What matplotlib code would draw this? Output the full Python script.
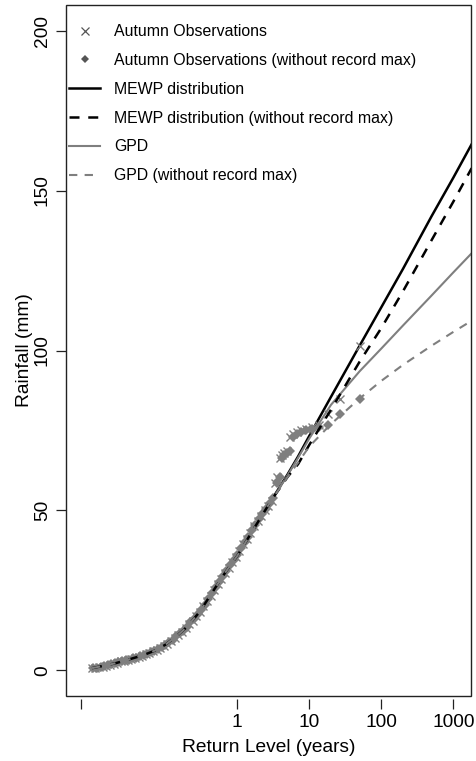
import matplotlib
matplotlib.use("Agg")
import matplotlib.pyplot as plt
from matplotlib.lines import Line2D
from matplotlib.patches import Rectangle

plt.rcParams['font.family'] = ['Liberation Sans', 'DejaVu Sans']

# return periods (years) at which the fitted curves are evaluated
curve_T = [0.0096, 0.015, 0.02, 0.03, 0.05, 0.07, 0.1, 0.15, 0.2, 0.3, 0.5, 0.7,
           1, 1.5, 2, 3, 5, 7, 10, 20, 50, 100, 200, 500, 1000, 1800]

# fitted return levels (mm)
mewp = [0.7, 1.6, 2.2, 3.3, 4.8, 6.1, 8.0, 11.1, 13.6, 18.3, 26.0, 31.0,
        35.8, 42.3, 46.9, 53.3, 61.3, 66.9, 73.3, 85.5, 101.5, 113.5, 125.5, 142.0, 154.0, 164.5]
mewp_nomax = [0.7, 1.6, 2.2, 3.3, 4.8, 6.1, 8.0, 11.1, 13.6, 18.3, 26.0, 31.0,
              35.8, 42.3, 46.9, 53.3, 60.5, 64.5, 70.5, 81.5, 96.5, 107.0, 118.5, 134.5, 146.5, 157.0]
gpd = [0.7, 1.6, 2.2, 3.3, 4.8, 6.1, 8.0, 11.1, 13.6, 18.3, 26.0, 31.0,
       35.8, 42.3, 46.9, 53.3, 61.0, 66.5, 72.5, 83.0, 93.5, 100.6, 107.8, 117.2, 124.4, 130.4]
gpd_nomax = [0.7, 1.6, 2.2, 3.3, 4.8, 6.1, 8.0, 11.1, 13.6, 18.3, 26.0, 31.0,
             35.8, 42.3, 46.9, 53.3, 60.5, 65.0, 70.0, 77.0, 85.0, 90.5, 95.5, 101.5, 105.8, 109.3]

# autumn observations: empirical return period (years) and rainfall (mm)
obs_T = [0.0095, 0.0107, 0.0120, 0.0135, 0.0151, 0.0170, 0.0191, 0.0214, 0.0240, 0.0269,
         0.0302, 0.0339, 0.0380, 0.0427, 0.0479, 0.0537, 0.0603, 0.0676, 0.0759, 0.0851,
         0.0955, 0.107, 0.120, 0.135, 0.151, 0.170, 0.191, 0.214, 0.240, 0.269,
         0.302, 0.339, 0.380, 0.427, 0.479, 0.537, 0.603, 0.676, 0.759, 0.851,
         0.955, 1.07, 1.20, 1.35, 1.51, 1.70, 1.91, 2.14, 2.40, 2.69,
         3.02, 3.39, 3.6, 3.86, 4.15, 4.5, 4.9, 5.4, 6.0, 6.75,
         7.7, 9.0, 10.8, 13.5, 18.0, 27.0, 50.0]
obs_mm = [0.6, 0.8, 1.0, 1.2, 1.4, 1.8, 2.0, 2.4, 2.8, 3.0,
          3.4, 3.6, 4.0, 4.2, 4.6, 5.0, 5.4, 6.0, 6.4, 7.0,
          7.6, 8.4, 9.2, 10.2, 11.2, 12.0, 13.2, 14.4, 15.6, 17.0,
          18.4, 20.0, 21.6, 23.4, 25.2, 27.0, 28.6, 30.4, 32.0, 33.8,
          35.4, 37.2, 39.4, 41.2, 43.0, 45.0, 46.6, 48.2, 50.0, 51.4,
          53.0, 58.5, 60.5, 66.5, 67.2, 68.0, 68.6, 73.0, 73.8, 74.4,
          75.0, 75.4, 76.0, 76.6, 80.2, 84.8, 101.5]

# observations with the record maximum removed
obs2_T = [0.0100, 0.0112, 0.0126, 0.0141, 0.0158, 0.0178, 0.0200, 0.0224, 0.0251, 0.0282,
          0.0316, 0.0355, 0.0398, 0.0447, 0.0501, 0.0562, 0.0631, 0.0708, 0.0794, 0.0891,
          0.100, 0.112, 0.126, 0.141, 0.158, 0.178, 0.200, 0.224, 0.251, 0.282,
          0.316, 0.355, 0.398, 0.447, 0.501, 0.562, 0.631, 0.708, 0.794, 0.891,
          1.00, 1.12, 1.26, 1.41, 1.58, 1.78, 2.00, 2.24, 2.51, 2.82,
          3.16, 3.6, 3.86, 4.15, 4.5, 4.9, 5.4, 6.0, 6.75, 7.7,
          9.0, 10.8, 13.5, 18.0, 27.0, 50.0]
obs2_mm = [0.7, 0.9, 1.1, 1.3, 1.6, 1.9, 2.2, 2.6, 2.8, 3.2,
           3.4, 3.8, 4.0, 4.4, 4.8, 5.2, 5.6, 6.2, 6.6, 7.2,
           8.0, 8.8, 9.6, 10.6, 11.6, 12.4, 13.6, 15.0, 16.2, 17.6,
           19.0, 20.6, 22.4, 24.2, 26.0, 27.6, 29.4, 31.0, 32.8, 34.4,
           36.2, 38.2, 40.2, 41.8, 44.0, 45.6, 47.4, 49.0, 50.6, 52.2,
           53.8, 58.5, 60.5, 66.5, 67.2, 68.0, 68.6, 73.0, 73.8, 74.4,
           75.0, 75.4, 76.0, 76.6, 80.2, 84.8]

x_ticks = [0.0067, 1, 10, 100, 1000]
x_tick_labels = ['', '1', '10', '100', '1000']
y_ticks = [0, 50, 100, 150, 200]

GREY = '#7f7f7f'
DASH = (4, 3.5)

fig = plt.figure(figsize=(4.77, 7.61), dpi=100)
ax = fig.add_axes([65.7 / 477, 1 - 696 / 761, (471 - 65.7) / 477, (696 - 5) / 761])

ax.plot(curve_T, mewp, color='black', lw=1.8, zorder=1)
ax.plot(curve_T, gpd, color=GREY, lw=1.5, zorder=1)
ax.plot(obs_T, obs_mm, ls='none', marker='x', ms=6.2, mew=1.0, color=GREY, zorder=2)
ax.plot(obs2_T, obs2_mm, ls='none', marker='D', ms=4.8, mew=0, color=GREY, zorder=2)
ax.plot(curve_T, mewp_nomax, color='black', lw=1.8, dashes=DASH, zorder=3)
ax.plot(curve_T, gpd_nomax, color=GREY, lw=1.5, dashes=DASH, zorder=3)

ax.set_xscale('log')
ax.set_xlim(10 ** -2.383, 10 ** 3.246)
ax.set_ylim(-8, 208)
ax.set_xticks(x_ticks)
ax.set_xticklabels(x_tick_labels)
ax.xaxis.set_minor_locator(matplotlib.ticker.NullLocator())
ax.set_yticks(y_ticks)
ax.set_yticklabels([str(v) for v in y_ticks], rotation=90, va='center')

for side in ['top', 'right', 'left', 'bottom']:
    ax.spines[side].set_visible(False)
ax.spines['bottom'].set_position(('outward', 2.2))
ax.add_patch(Rectangle((0, 0), 1, 1, transform=ax.transAxes, fill=False,
                       lw=1.0, edgecolor='#222222', clip_on=False, zorder=5))

ax.tick_params(axis='both', direction='out', length=7.2, width=0.9, color='#222222',
               labelsize=13.8, labelcolor='black')
ax.tick_params(axis='x', pad=3.9)
ax.tick_params(axis='y', pad=3.4)

ax.set_xlabel('Return Level (years)', fontsize=13.8, labelpad=5.5)
ax.set_ylabel('Rainfall (mm)', fontsize=13.8, labelpad=1)

handles = [
    Line2D([], [], ls='none', marker='x', ms=5.6, mew=0.9, color='#555555'),
    Line2D([], [], ls='none', marker='D', ms=3.6, mew=0, color='#555555'),
    Line2D([], [], color='black', lw=1.8),
    Line2D([], [], color='black', lw=1.8, dashes=DASH),
    Line2D([], [], color=GREY, lw=1.5),
    Line2D([], [], color=GREY, lw=1.5, dashes=DASH),
]
labels = ['Autumn Observations', 'Autumn Observations (without record max)',
          'MEWP distribution', 'MEWP distribution (without record max)',
          'GPD', 'GPD (without record max)']
ax.legend(handles, labels, loc='upper left', bbox_to_anchor=(0.0, 0.977), frameon=False,
          fontsize=11.4, handlelength=1.96, handletextpad=0.9, labelspacing=0.87,
          borderpad=0.21, borderaxespad=0.0)

fig.savefig('out.png', dpi=100)
